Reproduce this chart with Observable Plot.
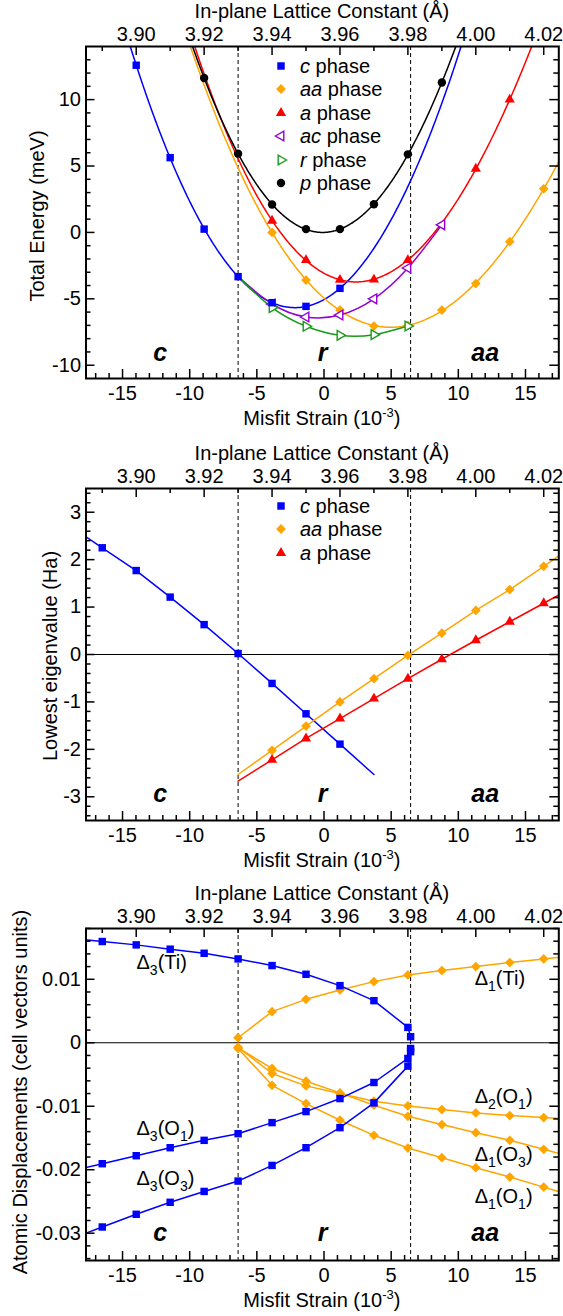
<!DOCTYPE html>
<html>
<head>
<meta charset="utf-8">
<script src="https://cdn.jsdelivr.net/npm/d3@7"></script>
<script src="https://cdn.jsdelivr.net/npm/@observablehq/plot@0.6"></script>
<style>
  html, body { margin: 0; padding: 0; background: #fff; }
  body { font-family: "Liberation Sans", Arial, Helvetica, sans-serif; color: #000; }
  #page { position: relative; width: 563px; height: 1316px; overflow: hidden; background: #fff; }
  .title { position: absolute; text-align: center; font-size: 20px; line-height: 24px; white-space: nowrap; }
  .ytitle { position: absolute; font-size: 20px; line-height: 24px; white-space: nowrap; transform: translate(-50%, -50%) rotate(-90deg); }
  .leg { position: absolute; font-size: 20px; line-height: 24px; white-space: nowrap; }
  sup { font-size: 13px; vertical-align: 8px; line-height: 0; }
</style>
</head>
<body>
<div id="page"></div>
<script>
// ---------------- data ----------------
const A0 = 3.9553;                      // lattice constant (Å) of zero misfit strain
const strainDomain = [-17.72, 17.48];   // misfit strain (10^-3)
const strainTicks = [-15, -10, -5, 0, 5, 10, 15];
const latticeTicks = [3.90, 3.92, 3.94, 3.96, 3.98, 4.00, 4.02];
const latticeMinor = [3.89, 3.91, 3.93, 3.95, 3.97, 3.99, 4.01];
const boundaries = [3.93, 3.9808];      // c/r and r/aa phase boundaries (Å)

// Panel 1: total energy (meV)
const energyTicks = [-10, -5, 0, 5, 10];
const energyDomain = [-11, 14];
const energyLatC = [3.90, 3.91, 3.92, 3.93, 3.94, 3.95, 3.96];
const energyC = [12.59, 5.63, 0.25, -3.33, -5.29, -5.57, -4.21];
const energyLatAA = [3.94, 3.95, 3.96, 3.97, 3.98, 3.99, 4.00, 4.01, 4.02];
const energyAA = [0.0, -3.59, -5.85, -7.05, -7.0, -5.85, -3.85, -0.7, 3.28];
const energyLatA = [3.94, 3.95, 3.96, 3.97, 3.98, 4.00, 4.01];
const energyA = [0.88, -2.08, -3.57, -3.55, -2.08, 4.8, 10.0];
const energyLatAC = [3.94, 3.95, 3.96, 3.97, 3.98, 3.99];
const energyAC = [-5.39, -6.37, -6.22, -5.0, -2.68, 0.57];
const energyLatR = [3.94, 3.95, 3.96, 3.97, 3.98];
const energyR = [-5.67, -7.07, -7.75, -7.7, -7.05];
const energyLatP = [3.92, 3.93, 3.94, 3.95, 3.96, 3.97, 3.98, 3.99];
const energyP = [11.63, 5.93, 2.1, 0.25, 0.25, 2.12, 5.88, 11.29];
const fitSpanC = [3.885, 4.0];
const fitSpanAA = [3.905, 4.03];
const fitSpanA = [3.905, 4.02];
const fitSpanP = [3.91, 4.0];

// Panel 2: lowest eigenvalue (Ha)
const eigTicks = [-3, -2, -1, 0, 1, 2, 3];
const eigDomain = [-3.5, 3.5];
const eigLatC = [3.89, 3.90, 3.91, 3.92, 3.93, 3.94, 3.95, 3.96];
const eigC = [2.25, 1.77, 1.21, 0.63, 0.02, -0.61, -1.25, -1.89];
const eigLatAA = [3.94, 3.95, 3.96, 3.97, 3.98, 3.99, 4.00, 4.01, 4.02];
const eigAA = [-2.02, -1.51, -1.0, -0.51, -0.02, 0.45, 0.93, 1.37, 1.86];
const eigLatA = [3.94, 3.95, 3.96, 3.97, 3.98, 3.99, 4.00, 4.01, 4.02];
const eigA = [-2.22, -1.77, -1.35, -0.93, -0.51, -0.1, 0.3, 0.69, 1.08];
const eigSpanC = [3.88, 3.97];
const eigSpanAA = [3.93, 4.03];
const eigSpanA = [3.93, 4.03];

// Panel 3: atomic displacements (cell vectors units)
const dispTicks = [-0.03, -0.02, -0.01, 0, 0.01];
const dispDomain = [-0.0343, 0.018];
const dispLatBlue = [3.89, 3.90, 3.91, 3.92, 3.93, 3.94, 3.95, 3.96, 3.97, 3.98, 3.9808];
const d3Ti = [0.01595, 0.01542, 0.01474, 0.0141, 0.01321, 0.01216, 0.01079, 0.009, 0.00663, 0.00242, 0.00095];
const d3O1 = [-0.01905, -0.01779, -0.01653, -0.01537, -0.01432, -0.01258, -0.01084, -0.00879, -0.00626, -0.00247, -0.0009];
const d3O3 = [-0.02902, -0.02702, -0.02513, -0.02342, -0.02179, -0.01932, -0.01653, -0.01337, -0.00947, -0.00368, -0.0014];
const dispLatOrange = [3.93, 3.94, 3.95, 3.96, 3.97, 3.98, 3.99, 4.00, 4.01, 4.02];
const d1Ti = [0.00079, 0.0049, 0.00684, 0.00832, 0.00963, 0.01068, 0.01137, 0.012, 0.01263, 0.01321];
const d2O1 = [-0.0007, -0.00484, -0.00679, -0.0080, -0.00921, -0.00995, -0.01053, -0.01105, -0.01147, -0.01179];
const d1O3 = [-0.0008, -0.00405, -0.00605, -0.0079, -0.00984, -0.01158, -0.01289, -0.01416, -0.01537, -0.01679];
const d1O1 = [-0.0009, -0.0067, -0.00958, -0.0122, -0.01458, -0.01658, -0.01811, -0.01968, -0.02116, -0.02274];
const blueSpan = [3.88, null];
const orangeSpan = [null, 4.03];
const dispLabels = ["Δ_3(Ti)", "Δ_1(Ti)", "Δ_3(O_1)", "Δ_3(O_3)", "Δ_2(O_1)", "Δ_1(O_3)", "Δ_1(O_1)"];
const dispLabelX = [-13.96, 11.22, -13.96, -13.96, 11.22, 11.22, 11.22];
const dispLabelY = [0.01265, 0.01003, -0.01359, -0.02147, -0.00846, -0.01764, -0.0242];

// phase region labels
const regionNames = ["c", "r", "aa"];
const regionX = [-12.2, -0.1, 12.0];
const regionY = [-9.1, -2.95, -0.030];

const colors = {c: "#0000ff", aa: "#ffa500", a: "#ff0000", ac: "#9400d3", r: "#1a9a1a", p: "#000000"};

// ---------------- helpers ----------------
const toStrain = a => (a / A0 - 1) * 1000;
const toLattice = s => A0 * (1 + s / 1000);
const pts = (lat, val) => lat.map((a, i) => ({x: toStrain(a), y: val[i]}));

const diamond = {draw(c, size) { const h = Math.sqrt(size / 2); c.moveTo(0, -h); c.lineTo(h, 0); c.lineTo(0, h); c.lineTo(-h, 0); c.closePath(); }};
const triLeft = {draw(c, size) { const t = Math.sqrt(size / (3 * Math.sqrt(3))); c.moveTo(-2 * t, 0); c.lineTo(t, -Math.sqrt(3) * t); c.lineTo(t, Math.sqrt(3) * t); c.closePath(); }};
const triRight = {draw(c, size) { const t = Math.sqrt(size / (3 * Math.sqrt(3))); c.moveTo(2 * t, 0); c.lineTo(-t, -Math.sqrt(3) * t); c.lineTo(-t, Math.sqrt(3) * t); c.closePath(); }};
const SYM = {
  c: {symbol: d3.symbolSquare, r: 4.2, fill: colors.c, stroke: "none", sw: 0},
  aa: {symbol: diamond, r: 3.9, fill: colors.aa, stroke: "none", sw: 0},
  a: {symbol: d3.symbolTriangle, r: 3.8, fill: colors.a, stroke: "none", sw: 0},
  ac: {symbol: triLeft, r: 3.6, fill: "white", stroke: colors.ac, sw: 1.4},
  r: {symbol: triRight, r: 3.6, fill: "white", stroke: colors.r, sw: 1.4},
  p: {symbol: d3.symbolCircle, r: 4.2, fill: colors.p, stroke: "none", sw: 0}
};

function polyfit(xs, ys, deg) {
  const n = deg + 1;
  const M = Array.from({length: n}, () => new Array(n + 1).fill(0));
  xs.forEach((x0, k) => {
    const t = x0 / 10, pw = [1];
    for (let i = 1; i < 2 * n; i++) pw.push(pw[i - 1] * t);
    for (let i = 0; i < n; i++) { for (let j = 0; j < n; j++) M[i][j] += pw[i + j]; M[i][n] += pw[i] * ys[k]; }
  });
  for (let i = 0; i < n; i++) {
    let p = i; for (let r = i + 1; r < n; r++) if (Math.abs(M[r][i]) > Math.abs(M[p][i])) p = r;
    [M[i], M[p]] = [M[p], M[i]];
    for (let r = 0; r < n; r++) if (r !== i) { const f = M[r][i] / M[i][i]; for (let c = i; c <= n; c++) M[r][c] -= f * M[i][c]; }
  }
  return M.map((row, i) => row[n] / row[i]);
}
function fitCurve(p, span, deg) {
  const coef = polyfit(p.map(d => d.x), p.map(d => d.y), deg);
  const x0 = toStrain(span[0]), x1 = toStrain(span[1]);
  return d3.range(0, 401).map(i => {
    const x = x0 + (x1 - x0) * i / 400, t = x / 10;
    return {x, y: coef.reduce((s, c, k) => s + c * Math.pow(t, k), 0)};
  });
}
function extend(p, span) {
  const out = p.slice();
  if (span[0] != null) { const a = p[0], b = p[1], x = toStrain(span[0]); out.unshift({x, y: a.y + (b.y - a.y) * (x - a.x) / (b.x - a.x)}); }
  if (span[1] != null) { const a = p[p.length - 2], b = p[p.length - 1], x = toStrain(span[1]); out.push({x, y: b.y + (b.y - a.y) * (x - b.x) / (b.x - a.x)}); }
  return out;
}
const lineMark = (data, color, curve = "linear") => Plot.line(data, {x: "x", y: "y", stroke: color, strokeWidth: 1.5, curve, clip: true});
const dotMark = (data, key) => Plot.dot(data, {x: "x", y: "y", symbol: SYM[key].symbol, r: SYM[key].r, fill: SYM[key].fill, stroke: SYM[key].stroke, strokeWidth: SYM[key].sw});

// ---------------- layout ----------------
const page = document.getElementById("page");
const W = 563, H = 438, MT = 46, MB = 60, ML = 85.5, MR = 4.7;
const FH = H - MT - MB, FW = W - ML - MR;
const MAJ = 9, MIN = 5;
const frameTops = [46, 488, 928];
const yTitles = ["Total Energy (meV)", "Lowest eigenvalue (Ha)", "Atomic Displacements (cell vectors units)"];
const yTitleX = [37, 50, 19.5];
const yTitleDY = [4, 2, -2];

function makePanel(idx, cfg) {
  const xMinor = d3.range(-17, 18).filter(v => v % 5 !== 0);
  const tk = {stroke: "black", strokeWidth: 1.5};
  const marks = [
    Plot.ruleX(boundaries.map(toStrain), {x: d => d, stroke: "black", strokeWidth: 1, strokeDasharray: "4,3"}),
    ...(cfg.zero ? [Plot.ruleY([0], {y: d => d, stroke: "black", strokeWidth: 1})] : []),
    ...cfg.marks,
    Plot.text(regionNames, {x: (d, i) => regionX[i], y: () => regionY[idx], text: d => d, fontSize: 25, fontWeight: "bold", fontStyle: "italic", lineAnchor: "middle"}),
    Plot.ruleX(strainTicks, {x: d => d, insetTop: FH - MAJ, ...tk}),
    Plot.ruleX(xMinor, {x: d => d, insetTop: FH - MIN, ...tk}),
    Plot.ruleX(latticeTicks.map(toStrain), {x: d => d, insetBottom: FH - MAJ, ...tk}),
    Plot.ruleX(latticeMinor.map(toStrain), {x: d => d, insetBottom: FH - MIN, ...tk}),
    Plot.ruleY(cfg.yTicks, {y: d => d, insetRight: FW - MAJ, ...tk}),
    Plot.ruleY(cfg.yTicks, {y: d => d, insetLeft: FW - MAJ, ...tk}),
    Plot.ruleY(cfg.yMinor, {y: d => d, insetRight: FW - MIN, ...tk}),
    Plot.ruleY(cfg.yMinor, {y: d => d, insetLeft: FW - MIN, ...tk}),
    Plot.frame({stroke: "black", strokeWidth: 2}),
    Plot.axisX({anchor: "bottom", ticks: strainTicks, tickSize: 0, tickPadding: 15, lineAnchor: "middle", tickFormat: d => String(d), label: null, fontSize: 20}),
    Plot.axisX({anchor: "top", ticks: latticeTicks.map(toStrain), tickSize: 0, tickPadding: 12, lineAnchor: "middle", tickFormat: d => toLattice(d).toFixed(2), label: null, fontSize: 20}),
    Plot.axisY({anchor: "left", ticks: cfg.yTicks, tickSize: 0, tickPadding: 5, tickFormat: d => String(d), label: null, fontSize: 20})
  ];
  const svg = Plot.plot({
    width: W, height: H, marginTop: MT, marginBottom: MB, marginLeft: ML, marginRight: MR,
    x: {domain: strainDomain}, y: {domain: cfg.yDomain},
    style: {fontFamily: "'Liberation Sans', Arial, sans-serif", fontSize: "20px", background: "transparent", overflow: "visible", color: "black"},
    marks
  });
  svg.style.position = "absolute";
  svg.style.left = "0px";
  svg.style.top = (frameTops[idx] - MT) + "px";
  // subscripts in the Δ labels
  d3.select(svg).selectAll("text").each(function () {
    const t = this.textContent;
    if (!t.includes("_")) return;
    const parts = t.split(/_(\d)/);
    this.textContent = "";
    let shifted = false;
    parts.forEach((p, i) => {
      if (!p) return;
      const ts = document.createElementNS("http://www.w3.org/2000/svg", "tspan");
      ts.textContent = p;
      if (i % 2 === 1) { ts.setAttribute("dy", "6"); ts.setAttribute("font-size", "14"); shifted = true; }
      else if (shifted) { ts.setAttribute("dy", "-6"); shifted = false; }
      this.appendChild(ts);
    });
  });
  page.appendChild(svg);

  const T = frameTops[idx], B = T + FH;
  const top = document.createElement("div");
  top.className = "title"; top.style.left = ML + "px"; top.style.width = FW + "px"; top.style.top = (T - 35 - 12) + "px";
  top.textContent = "In-plane Lattice Constant (Å)";
  page.appendChild(top);
  const bot = document.createElement("div");
  bot.className = "title"; bot.style.left = ML + "px"; bot.style.width = FW + "px"; bot.style.top = (B + 40 - 12) + "px";
  bot.innerHTML = "Misfit Strain (10<sup>-3</sup>)";
  page.appendChild(bot);
  const yt = document.createElement("div");
  yt.className = "ytitle"; yt.style.left = yTitleX[idx] + "px"; yt.style.top = (T + FH / 2 + yTitleDY[idx]) + "px";
  yt.textContent = yTitles[idx];
  page.appendChild(yt);
}

function addLegend(keys, y0, step) {
  keys.forEach((k, i) => {
    const y = y0 + i * step;
    const div = document.createElement("div");
    div.className = "leg"; div.style.left = "300px"; div.style.top = (y - 12) + "px";
    div.innerHTML = `<i>${k}</i> phase`;
    page.appendChild(div);
    const s = SYM[k];
    const svg = d3.create("svg").attr("width", 20).attr("height", 20)
      .style("position", "absolute").style("left", (280.5 - 10) + "px").style("top", (y - 10) + "px").style("overflow", "visible");
    svg.append("path").attr("transform", "translate(10,10)")
      .attr("d", d3.symbol(s.symbol, Math.PI * s.r * s.r)())
      .attr("fill", s.fill).attr("stroke", s.stroke).attr("stroke-width", s.sw);
    page.appendChild(svg.node());
  });
}

// ---------------- panel 1 ----------------
{
  const c = pts(energyLatC, energyC), aa = pts(energyLatAA, energyAA), a = pts(energyLatA, energyA);
  const ac = pts(energyLatAC, energyAC), r = pts(energyLatR, energyR), p = pts(energyLatP, energyP);
  const start = c[energyLatC.indexOf(3.93)];
  makePanel(0, {
    yDomain: energyDomain, yTicks: energyTicks, yMinor: d3.range(-10, 14).filter(v => v % 5 !== 0),
    marks: [
      lineMark(fitCurve(c, fitSpanC, 3), colors.c),
      lineMark(fitCurve(aa, fitSpanAA, 3), colors.aa),
      lineMark(fitCurve(a, fitSpanA, 3), colors.a),
      lineMark([start, ...ac], colors.ac, "natural"),
      lineMark([start, ...r], colors.r, "natural"),
      lineMark(fitCurve(p, fitSpanP, 4), colors.p),
      dotMark(aa, "aa"), dotMark(a, "a"), dotMark(ac, "ac"), dotMark(r, "r"), dotMark(p, "p"), dotMark(c, "c")
    ]
  });
  addLegend(["c", "aa", "a", "ac", "r", "p"], 65.5, 23.5);
}

// ---------------- panel 2 ----------------
{
  const c = pts(eigLatC, eigC), aa = pts(eigLatAA, eigAA), a = pts(eigLatA, eigA);
  makePanel(1, {
    yDomain: eigDomain, yTicks: eigTicks, yMinor: d3.range(-17, 18).filter(v => v % 5 !== 0).map(v => v / 5),
    zero: true,
    marks: [
      lineMark(extend(c, eigSpanC), colors.c),
      lineMark(extend(aa, eigSpanAA), colors.aa),
      lineMark(extend(a, eigSpanA), colors.a),
      dotMark(c, "c"), dotMark(aa, "aa"), dotMark(a, "a")
    ]
  });
  addLegend(["c", "aa", "a"], 506, 23.4);
}

// ---------------- panel 3 ----------------
{
  const ti3 = pts(dispLatBlue, d3Ti), o13 = pts(dispLatBlue, d3O1), o33 = pts(dispLatBlue, d3O3);
  const ti1 = pts(dispLatOrange, d1Ti), o12 = pts(dispLatOrange, d2O1), o31 = pts(dispLatOrange, d1O3), o11 = pts(dispLatOrange, d1O1);
  makePanel(2, {
    yDomain: dispDomain, yTicks: dispTicks, yMinor: d3.range(-17, 10).filter(v => v % 5 !== 0).map(v => v * 0.002),
    zero: true,
    marks: [
      ...[ti1, o12, o31, o11].map(s => lineMark(extend(s, orangeSpan), colors.aa)),
      ...[ti1, o12, o31, o11].map(s => dotMark(s, "aa")),
      ...[ti3, o13, o33].map(s => lineMark(extend(s, blueSpan), colors.c)),
      ...[ti3, o13, o33].map(s => dotMark(s, "c")),
      Plot.text(dispLabels, {x: (d, i) => dispLabelX[i], y: (d, i) => dispLabelY[i], text: d => d, textAnchor: "start", lineAnchor: "middle", fontSize: 20})
    ]
  });
}
</script>
</body>
</html>
